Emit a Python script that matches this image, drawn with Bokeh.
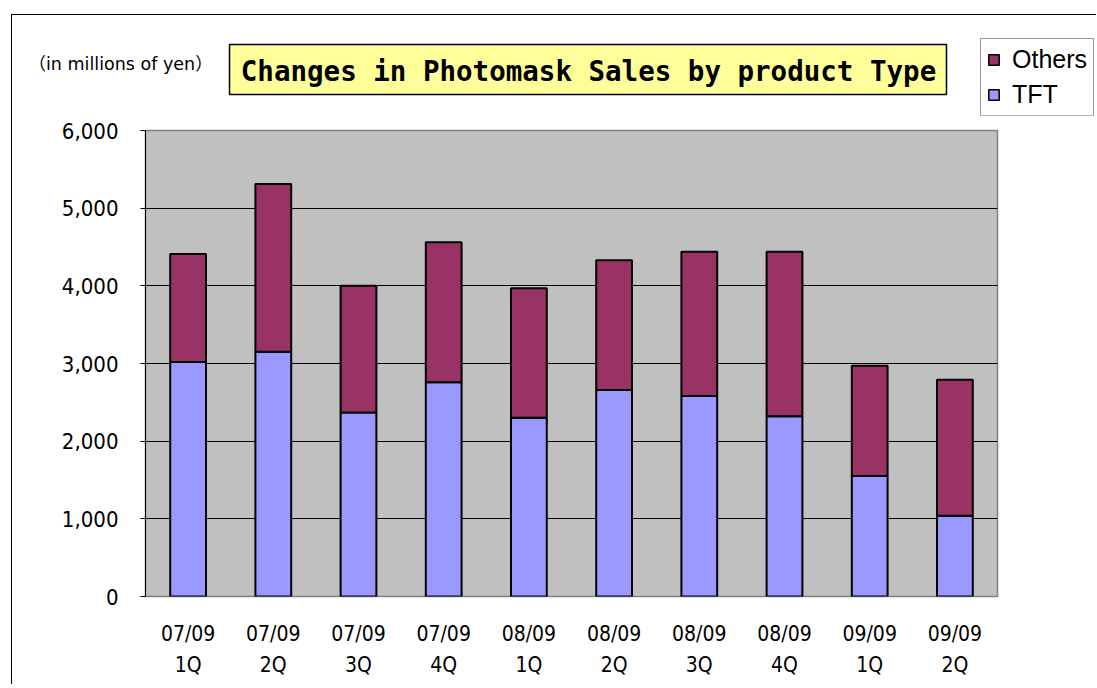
from bokeh.plotting import figure
from bokeh.layouts import column
from bokeh.models import (ColumnDataSource, FactorRange, Range1d, Label, Legend, LegendItem,
                          NumeralTickFormatter, FixedTicker)
from bokeh.embed import file_html
from bokeh.resources import INLINE

quarters = ["07/09\n1Q", "07/09\n2Q", "07/09\n3Q", "07/09\n4Q", "08/09\n1Q",
            "08/09\n2Q", "08/09\n3Q", "08/09\n4Q", "09/09\n1Q", "09/09\n2Q"]
tft = [3020, 3150, 2370, 2760, 2300, 2660, 2580, 2320, 1550, 1040]
total = [4410, 5310, 4000, 4560, 3970, 4330, 4440, 4440, 2970, 2790]
others = [t - f for t, f in zip(total, tft)]
y_ticks = [0, 1000, 2000, 3000, 4000, 5000, 6000]
series = ["TFT", "Others"]
colors = ["#9999FF", "#993366"]
title_text = "Changes in Photomask Sales by product Type"
unit_text = "（in millions of yen）"

# ---------- header (title, unit note, legend) ----------
h = figure(width=1085, height=101, x_range=Range1d(12, 1097), y_range=Range1d(116, 15),
           output_backend="svg", toolbar_location=None,
           min_border_left=0, min_border_right=0, min_border_top=0, min_border_bottom=0)
h.frame_align = False
h.axis.visible = False
h.grid.visible = False
h.outline_line_color = None
h.background_fill_color = "white"
h.border_fill_color = "white"
h.styles = {"border-left": "1px solid #000000", "border-top": "1px solid #000000"}

h.quad(left=[229], right=[946], top=[44], bottom=[94], fill_color="#FFFF99",
       line_color="black", line_width=1.5)
h.add_layout(Label(x=588, y=70, text=title_text, text_align="center", text_baseline="middle",
                   text_font="DejaVu Sans Mono", text_font_style="bold",
                   text_font_size="27.5px", text_color="black"))
h.add_layout(Label(x=28, y=63, text=unit_text, text_align="left", text_baseline="middle",
                   text_font="DejaVu Sans, Noto Sans CJK JP", text_font_size="17.5px",
                   text_color="black"))

nan = float("nan")
dummies = {}
for s, c in zip(series, colors):
    dummies[s] = h.rect(x=[nan], y=[nan], width=1, height=1, fill_color=c,
                        line_color="black", line_width=1.5)
legend = Legend(items=[LegendItem(label="Others", renderers=[dummies["Others"]]),
                       LegendItem(label="TFT", renderers=[dummies["TFT"]])],
                location=(968, 0), orientation="vertical")
legend.glyph_width = 13
legend.glyph_height = 13
legend.label_height = 24
legend.label_text_font = "Liberation Sans"
legend.label_text_font_size = "25px"
legend.label_text_line_height = 0.95
legend.label_text_color = "black"
legend.label_text_baseline = "middle"
legend.label_standoff = 12
legend.spacing = 6
legend.padding = 6
legend.margin = 0
legend.border_line_color = "#333333"
legend.border_line_width = 1
legend.background_fill_color = "white"
legend.background_fill_alpha = 1
h.add_layout(legend, "center")

# ---------- main chart ----------
src = ColumnDataSource(dict(q=quarters, TFT=tft, Others=others))

p = figure(x_range=FactorRange(*quarters, range_padding=0), y_range=Range1d(0, 6000),
           width=1085, height=569, output_backend="svg", toolbar_location=None,
           min_border_left=133, min_border_right=100, min_border_top=15, min_border_bottom=88)
p.frame_align = False
p.styles = {"border-left": "1px solid #000000"}

p.background_fill_color = "#C0C0C0"
p.border_fill_color = "white"
p.outline_line_color = "#808080"
p.outline_line_width = 1.5

p.vbar_stack(series, x="q", width=0.42, source=src,
             fill_color=colors, line_color="black", line_width=2)

p.xgrid.grid_line_color = None
p.ygrid.grid_line_color = "black"
p.ygrid.grid_line_width = 1
p.ygrid.ticker = FixedTicker(ticks=y_ticks)

lab_font = "DejaVu Sans Condensed, sans-serif"
p.yaxis.ticker = FixedTicker(ticks=y_ticks)
p.yaxis.formatter = NumeralTickFormatter(format="0,0")
p.yaxis.axis_line_color = "black"
p.yaxis.major_tick_out = 5
p.yaxis.major_tick_in = 0
p.yaxis.minor_tick_line_color = None
p.yaxis.major_label_text_font = lab_font
p.yaxis.major_label_text_font_size = "22px"
p.yaxis.major_label_text_color = "black"
p.yaxis.major_label_standoff = 22

p.xaxis.axis_line_color = None
p.xaxis.major_tick_line_color = None
p.xaxis.minor_tick_line_color = None
p.xaxis.major_label_text_font = lab_font
p.xaxis.major_label_text_font_size = "21px"
p.xaxis.major_label_text_color = "black"
p.xaxis.major_label_standoff = 19
p.xaxis.major_label_text_line_height = 1.3

layout = column(h, p, spacing=0)
layout.margin = (14, 0, 0, 11)

open("out.html", "w").write(file_html(layout, INLINE))
